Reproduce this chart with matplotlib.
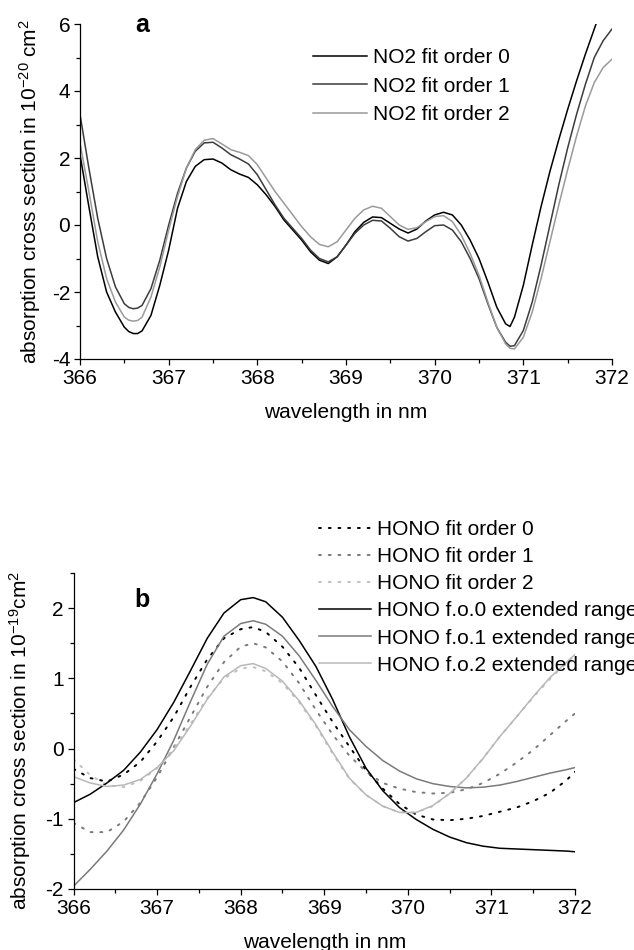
import numpy as np
import matplotlib
matplotlib.use('Agg')
import matplotlib.pyplot as plt
from matplotlib.ticker import MultipleLocator

plt.rcParams['font.family'] = 'Liberation Sans'
plt.rcParams['mathtext.fontset'] = 'custom'
plt.rcParams['mathtext.rm'] = 'Liberation Sans'
plt.rcParams['mathtext.it'] = 'Liberation Sans'
plt.rcParams['axes.unicode_minus'] = False

# panel a : NO2 cross sections (1e-20 cm2)
wl_no2 = [366.0, 366.1, 366.2, 366.3, 366.4, 366.5, 366.55, 366.6, 366.65, 366.7, 366.8, 366.9,
          367.0, 367.1, 367.2, 367.3, 367.4, 367.5, 367.6, 367.7, 367.8, 367.9,
          368.0, 368.1, 368.2, 368.3, 368.4, 368.5, 368.6, 368.7, 368.8, 368.9,
          369.0, 369.1, 369.2, 369.3, 369.4, 369.5, 369.6, 369.7, 369.8, 369.9,
          370.0, 370.1, 370.2, 370.3, 370.4, 370.5, 370.6, 370.7, 370.8, 370.85, 370.9,
          371.0, 371.1, 371.2, 371.3, 371.4, 371.5, 371.6, 371.7, 371.8, 371.9, 372.0]
no2_fo0 = [2.1, 0.55, -0.95, -2.0, -2.6, -3.05, -3.18, -3.24, -3.24, -3.16, -2.7, -1.8,
           -0.75, 0.5, 1.3, 1.75, 1.95, 1.97, 1.85, 1.65, 1.52, 1.42,
           1.2, 0.9, 0.55, 0.15, -0.15, -0.45, -0.8, -1.05, -1.15, -0.95,
           -0.6, -0.2, 0.08, 0.24, 0.22, 0.05, -0.12, -0.24, -0.12, 0.12,
           0.3, 0.38, 0.3, 0.0, -0.45, -1.0, -1.7, -2.45, -2.95, -3.03, -2.75,
           -1.8, -0.6, 0.55, 1.6, 2.55, 3.45, 4.3, 5.1, 5.85, 6.6, 7.3]
no2_fo1 = [3.3, 1.7, 0.2, -1.0, -1.85, -2.35, -2.46, -2.5, -2.48, -2.4, -1.9, -1.05,
           0.0, 0.95, 1.7, 2.2, 2.45, 2.47, 2.3, 2.1, 1.97, 1.82,
           1.5, 1.05, 0.6, 0.2, -0.1, -0.4, -0.75, -1.0, -1.1, -0.95,
           -0.6, -0.25, 0.0, 0.14, 0.12, -0.1, -0.35, -0.48, -0.4, -0.2,
           -0.02, 0.0, -0.15, -0.5, -1.0, -1.6, -2.35, -3.05, -3.5, -3.62, -3.6,
           -3.15, -2.3, -1.2, 0.0, 1.2, 2.3, 3.3, 4.2, 5.0, 5.5, 5.85]
no2_fo2 = [2.45, 1.0, -0.5, -1.6, -2.3, -2.75, -2.84, -2.87, -2.85, -2.75, -2.15, -1.25,
           -0.15, 0.85, 1.7, 2.25, 2.53, 2.58, 2.42, 2.25, 2.17, 2.07,
           1.8, 1.4, 1.0, 0.65, 0.3, -0.05, -0.35, -0.58, -0.65, -0.5,
           -0.15, 0.2, 0.45, 0.56, 0.5, 0.25, 0.0, -0.13, -0.08, 0.1,
           0.25, 0.28, 0.1, -0.3, -0.85, -1.5, -2.3, -3.05, -3.55, -3.68, -3.7,
           -3.35, -2.6, -1.6, -0.5, 0.6, 1.65, 2.65, 3.55, 4.25, 4.7, 4.95]

# panel b : HONO cross sections (1e-19 cm2)
wl_hono = [366.0, 366.2, 366.4, 366.6, 366.8, 367.0, 367.2, 367.4, 367.6, 367.8,
           368.0, 368.15, 368.3, 368.5, 368.7, 368.9, 369.1, 369.3, 369.5, 369.7,
           369.9, 370.1, 370.3, 370.5, 370.7, 370.9, 371.1, 371.3, 371.5, 371.7,
           371.9, 372.0]
hono_fo0 = [-0.29, -0.42, -0.47, -0.37, -0.19, 0.1, 0.45, 0.88, 1.27, 1.57,
            1.7, 1.73, 1.66, 1.45, 1.15, 0.76, 0.38, 0.03, -0.31, -0.57,
            -0.79, -0.94, -1.01, -1.02, -1.0, -0.96, -0.9, -0.84, -0.75, -0.63,
            -0.45, -0.33]
hono_fo1 = [-1.06, -1.19, -1.19, -1.04, -0.77, -0.41, 0.02, 0.45, 0.88, 1.23,
            1.45, 1.5, 1.44, 1.24, 0.93, 0.55, 0.2, -0.1, -0.33, -0.49,
            -0.57, -0.62, -0.64, -0.63, -0.58, -0.49, -0.36, -0.2, -0.02, 0.19,
            0.4, 0.5]
hono_fo2 = [-0.15, -0.38, -0.52, -0.55, -0.46, -0.28, 0.0, 0.35, 0.72, 1.0,
            1.14, 1.16, 1.1, 0.93, 0.66, 0.32, -0.07, -0.43, -0.66, -0.82,
            -0.91, -0.91, -0.82, -0.64, -0.42, -0.14, 0.17, 0.45, 0.73, 0.99,
            1.22, 1.33]
hono_ext0 = [-0.77, -0.65, -0.49, -0.31, -0.05, 0.27, 0.66, 1.11, 1.57, 1.93,
             2.12, 2.15, 2.09, 1.87, 1.54, 1.17, 0.7, 0.17, -0.28, -0.6,
             -0.84, -1.01, -1.15, -1.26, -1.34, -1.39, -1.42, -1.43, -1.44, -1.45,
             -1.46, -1.47]
hono_ext1 = [-1.96, -1.72, -1.46, -1.16, -0.79, -0.36, 0.12, 0.67, 1.2, 1.6,
             1.78, 1.82, 1.77, 1.6, 1.32, 0.97, 0.6, 0.27, 0.03, -0.17,
             -0.32, -0.43, -0.5, -0.54, -0.56, -0.55, -0.52, -0.47, -0.41, -0.35,
             -0.3, -0.27]
hono_ext2 = [-0.40, -0.49, -0.54, -0.52, -0.44, -0.27, -0.03, 0.32, 0.7, 1.02,
             1.18, 1.21, 1.14, 0.96, 0.68, 0.34, -0.05, -0.42, -0.66, -0.82,
             -0.91, -0.91, -0.81, -0.64, -0.42, -0.14, 0.17, 0.45, 0.74, 1.01,
             1.23, 1.34]

W, H = 634, 950
fig = plt.figure(figsize=(W / 100, H / 100), dpi=100)
ax1 = fig.add_axes([80 / W, 1 - 359 / H, 532 / W, 335 / H])
ax2 = fig.add_axes([73.5 / W, 1 - 889 / H, 501.5 / W, 316 / H])

lw = 1.1
ax1.plot(wl_no2, no2_fo0, color='#000000', lw=lw, label='NO2 fit order 0')
ax1.plot(wl_no2, no2_fo1, color='#3c3c3c', lw=lw, label='NO2 fit order 1')
ax1.plot(wl_no2, no2_fo2, color='#9a9a9a', lw=lw, label='NO2 fit order 2')

dots = (0, (1, 4))
ax2.plot(wl_hono, hono_fo0, color='#000000', lw=1.4, ls=dots, dash_capstyle='round', label='HONO fit order 0')
ax2.plot(wl_hono, hono_fo1, color='#7a7a7a', lw=1.4, ls=dots, dash_capstyle='round', label='HONO fit order 1')
ax2.plot(wl_hono, hono_fo2, color='#c0c0c0', lw=1.4, ls=dots, dash_capstyle='round', label='HONO fit order 2')
ax2.plot(wl_hono, hono_ext0, color='#000000', lw=lw, label='HONO f.o.0 extended range')
ax2.plot(wl_hono, hono_ext1, color='#7a7a7a', lw=lw, label='HONO f.o.1 extended range')
ax2.plot(wl_hono, hono_ext2, color='#b8b8b8', lw=lw, label='HONO f.o.2 extended range')

fs = 15
for ax in (ax1, ax2):
    ax.set_xlim(366, 372)
    ax.xaxis.set_major_locator(MultipleLocator(1))
    ax.xaxis.set_minor_locator(MultipleLocator(0.5))
    ax.spines['top'].set_visible(False)
    ax.spines['right'].set_visible(False)
    for s in ('left', 'bottom'):
        ax.spines[s].set_linewidth(0.9)
    ax.tick_params(which='major', direction='out', length=4, width=0.9, labelsize=fs, pad=3)
    ax.tick_params(which='minor', direction='out', length=3, width=0.9)
    ax.set_xlabel('wavelength in nm', fontsize=fs, labelpad=11)

ax1.set_ylim(-4, 6)
ax1.yaxis.set_major_locator(MultipleLocator(2))
ax1.yaxis.set_minor_locator(MultipleLocator(1))
ax1.set_ylabel('absorption cross section in 10$^{-20}$ cm$^{2}$', fontsize=fs, labelpad=6)

ax2.set_ylim(-2, 2.5)
ax2.yaxis.set_major_locator(MultipleLocator(1))
ax2.yaxis.set_minor_locator(MultipleLocator(0.5))
ax2.set_yticks([-2, -1, 0, 1, 2])
ax2.set_ylabel('absorption cross section in 10$^{-19}$cm$^{2}$', fontsize=fs, labelpad=4)
ax2.yaxis.set_label_coords(-0.08, 0.47)

ax1.legend(loc='upper left', bbox_to_anchor=(313 / W, 1 - 48 / H), bbox_transform=fig.transFigure,
           frameon=False, fontsize=fs, handlelength=2.6, handletextpad=0.3, labelspacing=0.46,
           borderpad=0, borderaxespad=0)
ax2.legend(loc='upper left', bbox_to_anchor=(319 / W, 1 - 520 / H), bbox_transform=fig.transFigure,
           frameon=False, fontsize=fs, handlelength=2.5, handletextpad=0.3, labelspacing=0.39,
           borderpad=0, borderaxespad=0)

fig.text(142 / W, 1 - 25 / H, 'a', fontsize=18, fontweight='bold', ha='center', va='center')
fig.text(142 / W, 1 - 600 / H, 'b', fontsize=18, fontweight='bold', ha='center', va='center')

fig.savefig('out.png', dpi=100)
